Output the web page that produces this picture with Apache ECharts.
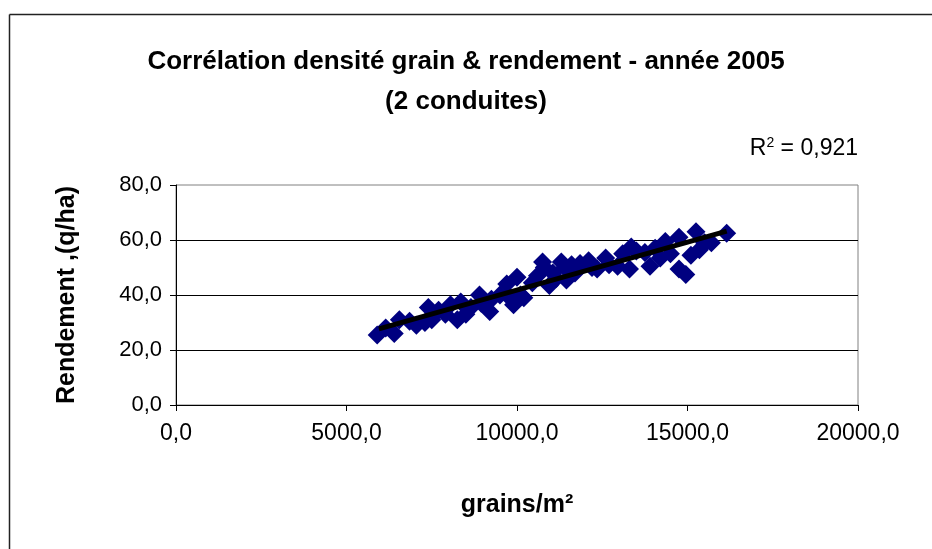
<!DOCTYPE html>
<html>
<head>
<meta charset="utf-8">
<script src="https://cdn.jsdelivr.net/npm/echarts@6/dist/echarts.min.js"></script>
<style>html,body{margin:0;padding:0;background:#fff}#c{width:932px;height:549px}</style>
</head>
<body>
<div id="c"></div>
<script>
// grains/m² values
var grains = [5900, 6150, 6400, 6550, 6850, 7050, 7300, 7400, 7500, 7700, 7900, 8050, 8250, 8350, 8500, 8650, 8900, 8950, 9200, 9250, 9500, 9700, 9750, 9900, 10000, 10100, 10200, 10450, 10600, 10750, 10800, 10950, 11050, 11150, 11300, 11400, 11450, 11600, 11700, 11850, 12100, 12200, 12350, 12600, 12700, 12950, 13100, 13300, 13350, 13500, 13750, 13900, 14050, 14200, 14350, 14500, 14750, 14750, 14950, 15100, 15250, 15350, 15500, 15700, 16150];
// Rendement (q/ha)
var rendement = [25.5, 28, 26, 31, 30.5, 29, 30, 35.5, 31, 34.5, 33, 36.5, 31, 37.5, 33, 35.5, 40, 37, 34, 38.5, 40, 44, 39.5, 36.5, 46.5, 40, 39, 44.5, 47, 52, 50, 43.5, 48, 46, 52, 50, 45.5, 51, 48, 51.5, 52.5, 50, 49.5, 53.5, 51, 50.5, 55, 49.5, 57.5, 56, 55.5, 50.5, 57, 53.5, 59.5, 55, 61, 49.5, 47.5, 54.5, 63, 56.5, 59, 59, 62.5];
// linear trend line end points
var trendX = [5950, 16150];
var trendY = [27.7, 63.2];
var titleLines = ["Corrélation densité grain & rendement - année 2005", "(2 conduites)"];
var r2Text = "0,921";
var xName = "grains/m²";
var yName = "Rendement ,(q/ha)";

var pts = grains.map(function (g, i) { return [g, rendement[i]]; });
var trend = trendX.map(function (x, i) { return [x, trendY[i]]; });
function fmt(v) { return v.toFixed(1).replace('.', ','); }

var chart = echarts.init(document.getElementById('c'), null, {renderer: 'canvas'});
chart.setOption({
  animation: false,
  backgroundColor: '#fff',
  title: {
    text: titleLines.join('\n'),
    left: 'center',
    top: 37,
    textStyle: {fontFamily: 'Liberation Sans', fontWeight: 'bold', fontSize: 26, lineHeight: 40, color: '#000'}
  },
  grid: {left: 176, right: 74, top: 185, bottom: 144, show: true, borderColor: '#808080', borderWidth: 1, backgroundColor: '#fff'},
  xAxis: {
    type: 'value', min: 0, max: 20000, interval: 5000,
    name: xName, nameLocation: 'middle', nameGap: 88,
    nameTextStyle: {fontFamily: 'Liberation Sans', fontWeight: 'bold', fontSize: 25, color: '#000'},
    axisLine: {show: true, onZero: false, lineStyle: {color: '#000', width: 1}},
    axisTick: {show: true, length: 6, lineStyle: {color: '#000'}},
    axisLabel: {margin: 17, fontFamily: 'Liberation Sans', fontSize: 23, color: '#000', formatter: fmt},
    splitLine: {show: false}
  },
  yAxis: {
    type: 'value', min: 0, max: 80, interval: 20,
    name: yName, nameLocation: 'middle', nameGap: 96,
    nameTextStyle: {fontFamily: 'Liberation Sans', fontWeight: 'bold', fontSize: 25, color: '#000'},
    axisLine: {show: true, onZero: false, lineStyle: {color: '#000', width: 1}},
    axisTick: {show: true, length: 6, lineStyle: {color: '#000'}},
    axisLabel: {margin: 14, fontFamily: 'Liberation Sans', fontSize: 22, color: '#000', formatter: fmt},
    splitLine: {show: true, showMinLine: false, showMaxLine: false, lineStyle: {color: '#000', width: 1}}
  },
  graphic: [
    {type: 'line', shape: {x1: 9.5, y1: 14.5, x2: 932, y2: 14.5}, style: {stroke: '#222', lineWidth: 1.5}, silent: true},
    {type: 'line', shape: {x1: 9.5, y1: 14.5, x2: 9.5, y2: 549}, style: {stroke: '#222', lineWidth: 1.5}, silent: true},
    {type: 'text', right: 74, top: 136, style: {
      text: '{r|R}{s|2}{r| = ' + r2Text + '}',
      rich: {
        r: {fontFamily: 'Liberation Sans', fontSize: 23, fill: '#000', verticalAlign: 'bottom'},
        s: {fontFamily: 'Liberation Sans', fontSize: 14, fill: '#000', verticalAlign: 'top', padding: [0, 0, 10, 0]}
      }
    }}
  ],
  series: [
    {type: 'scatter', data: pts, symbol: 'diamond', symbolSize: 19,
     itemStyle: {color: '#000080', opacity: 1}, z: 2},
    {type: 'line', data: trend, symbol: 'none', lineStyle: {color: '#000', width: 5}, z: 3}
  ]
});
</script>
</body>
</html>
